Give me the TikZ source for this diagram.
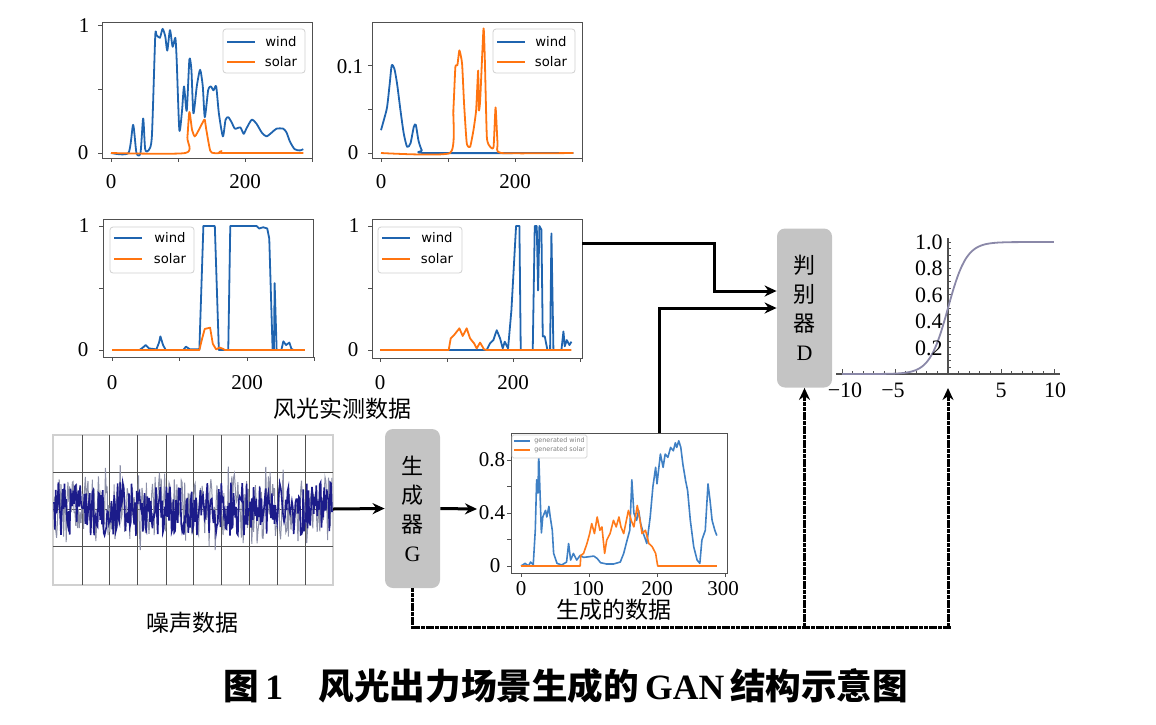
\documentclass[tikz,border=0pt]{standalone}
\usepackage{fontspec}
\setmainfont{Liberation Serif}
\newfontfamily\cjk{Noto Sans CJK SC}
\newfontfamily\mplfont{DejaVu Sans}
\usetikzlibrary{arrows.meta,calc}

\definecolor{windblue}{HTML}{1F64AF}
\definecolor{solarorange}{HTML}{FF7410}
\definecolor{genblue}{HTML}{3F80C4}
\definecolor{genorange}{HTML}{FF7A1A}
\definecolor{boxgray}{HTML}{C4C4C4}
\definecolor{axgray}{HTML}{505050}
\definecolor{leggray}{HTML}{D0D0D0}
\definecolor{noisenavy}{HTML}{1C1C8A}
\definecolor{noisegray}{HTML}{8C90A8}
\definecolor{sigcurve}{HTML}{8A88A8}

\begin{document}
\begin{tikzpicture}[
    x=0.5pt, y=-0.5pt,
    every node/.style={inner sep=0pt},
    block/.style={rectangle, rounded corners=4pt, fill=boxgray, minimum width=27.5pt, minimum height=79.5pt, align=center, font=\fontsize{11}{14.5}\selectfont},
    conn/.style={line width=1.5pt, -{Stealth[length=6pt, width=5.5pt]}},
    feedback/.style={line width=1.5pt, dash pattern=on 2pt off 0.35pt},
    frame/.style={draw=axgray, line width=0.5pt},
    wind/.style={windblue, line width=0.9pt, line join=round},
    solar/.style={solarorange, line width=0.9pt, line join=round},
    ticklab/.style={font=\fontsize{10.5}{12}\selectfont},
    legbox/.style={draw=leggray, fill=white, rounded corners=1.5pt, line width=0.4pt},
    legtext/.style={font=\mplfont\fontsize{6.6}{8}\selectfont},
    cjklab/.style={font=\cjk\fontsize{11.5}{13}\selectfont}
  ]
  \useasboundingbox (0,0) rectangle (1156,724);

  % measured wind / solar, top left
  \draw[frame] (102,22) rectangle (312,158);
  \foreach \t in {111,178,245,312} \draw[frame] (\t,158) -- (\t,162);
  \foreach \t in {153,89,25} \draw[frame] (102,\t) -- (98,\t);
  \node (p1y1) [ticklab] at (84,26) {1};
  \node (p1y0) [ticklab] at (83,153) {0};
  \node (p1x0) [ticklab] at (111,182) {0};
  \node (p1x2) [ticklab] at (245,182) {200};
  \begin{scope}[shift={(111,153)}, xscale=0.67, yscale=-128]
    \draw[wind] plot[smooth, tension=0.4] coordinates {(0,0) (26,0) (33,0.22) (38,0) (44,0) (48,0.27) (51,0.03) (56,0.02) (61,0.13) (66,0.91) (68,0.92) (73,0.90) (77,0.97) (81,0.91) (84,0.80) (88,0.96) (92,0.83) (96,0.90) (98,0.73) (102,0.18) (106,0.33) (109,0.52) (113,0.33) (117,0.73) (120,0.65) (123,0.31) (128,0.52) (133,0.65) (137,0.52) (140,0.28) (145,0.49) (149,0.52) (153,0.49) (157,0.52) (161,0.31) (167,0.13) (171,0.26) (175,0.28) (180,0.24) (185,0.19) (193,0.20) (198,0.15) (202,0.19) (210,0.26) (217,0.23) (225,0.16) (232,0.13) (240,0.16) (247,0.19) (257,0.19) (262,0.16) (267,0.09) (274,0.03) (282,0.02) (287,0.03)};
    \draw[solar] plot[smooth, tension=0.4] coordinates {(0,0) (111,0) (114,0.12) (117,0.32) (121,0.18) (125,0.13) (129,0.16) (133,0.2) (138,0.25) (140,0.26) (142,0.19) (148,0.02) (153,0) (162,0) (165,0.015) (168,0) (287,0)};
  \end{scope}
  \draw[legbox] (223,29) rectangle (305,73);
  \draw[wind, line width=1.1pt] (227,42) -- (255,42);
  \draw[solar, line width=1.1pt] (227,62) -- (255,62);
  \node (l1w) [legtext] at (281,42) {wind};
  \node (l1s) [legtext] at (281,62) {solar};

  % measured wind / solar, top right
  \draw[frame] (372,22) rectangle (582,158);
  \foreach \t in {381,448,515,582} \draw[frame] (\t,158) -- (\t,162);
  \foreach \t in {153,109,65} \draw[frame] (372,\t) -- (368,\t);
  \node (p2y1) [ticklab] at (350,67) {0.1};
  \node (p2y0) [ticklab] at (353,153) {0};
  \node (p2x0) [ticklab] at (381,182) {0};
  \node (p2x2) [ticklab] at (515,182) {200};
  \begin{scope}[shift={(381,153)}, xscale=0.67, yscale=-877]
    \draw[wind] plot[smooth, tension=0.4] coordinates {(0,0.026) (4,0.037) (9,0.052) (13,0.079) (16,0.1) (20,0.096) (24,0.079) (29,0.049) (34,0.022) (39,0.007) (44,0.011) (49,0.03) (52,0.032) (56,0.014) (61,0.003) (68,0) (287,0)};
    \draw[solar] plot[smooth, tension=0.3] coordinates {(0,0) (103,0) (108,0.049) (111,0.098) (114,0.1) (117,0.117) (121,0.102) (124,0.056) (128,0.011) (133,0.007) (138,0.026) (142,0.049) (145,0.094) (146,0.049) (148,0.06) (153,0.142) (155,0.106) (158,0.018) (163,0.007) (168,0.007) (171,0.052) (174,0.011) (179,0) (287,0)};
  \end{scope}
  \draw[legbox] (493,29) rectangle (575,73);
  \draw[wind, line width=1.1pt] (497,42) -- (525,42);
  \draw[solar, line width=1.1pt] (497,62) -- (525,62);
  \node (l2w) [legtext] at (551,42) {wind};
  \node (l2s) [legtext] at (551,62) {solar};

  % measured wind / solar, middle left
  \draw[frame] (103,219) rectangle (313,357);
  \foreach \t in {112,179,247,314} \draw[frame] (\t,357) -- (\t,361);
  \foreach \t in {350,288,226} \draw[frame] (103,\t) -- (99,\t);
  \node (p3y1) [ticklab] at (84,226) {1};
  \node (p3y0) [ticklab] at (83,350) {0};
  \node (p3x0) [ticklab] at (112,383) {0};
  \node (p3x2) [ticklab] at (247,383) {200};
  \begin{scope}[shift={(112,350)}, xscale=0.672, yscale=-124]
    \draw[wind] plot coordinates {(0,0) (41,0) (46,0.02) (50,0.04) (55,0.013) (66,0.005) (70,0.06) (72,0.11) (76,0.04) (80,0) (106,0) (110,0.027) (116,0.005) (130,0.005) (136,1) (153,1) (159,0) (173,0) (176,1) (215,1) (219,0.98) (225,0.99) (231,0.98) (234,0.9) (239,0) (241,0) (242,0.54) (245,0) (252,0) (255,0.07) (259,0.04) (264,0.06) (267,0.01) (270,0) (287,0)};
    \draw[solar] plot coordinates {(0,0) (130,0) (134,0.09) (138,0.17) (146,0.18) (150,0.05) (155,0.005) (160,0.02) (165,0.01) (168,0) (287,0)};
  \end{scope}
  \draw[legbox] (110,227) rectangle (194,273);
  \draw[wind, line width=1.1pt] (114,238) -- (142,238);
  \draw[solar, line width=1.1pt] (114,259) -- (142,259);
  \node (l3w) [legtext] at (170,238) {wind};
  \node (l3s) [legtext] at (170,259) {solar};

  % measured wind / solar, middle right
  \draw[frame] (372,219) rectangle (582,358);
  \foreach \t in {380,447,513,580} \draw[frame] (\t,358) -- (\t,362);
  \foreach \t in {350,288,226} \draw[frame] (372,\t) -- (368,\t);
  \node (p4y1) [ticklab] at (354,226) {1};
  \node (p4y0) [ticklab] at (353,350) {0};
  \node (p4x0) [ticklab] at (380,383) {0};
  \node (p4x2) [ticklab] at (513,383) {200};
  \begin{scope}[shift={(380,350)}, xscale=0.667, yscale=-124]
    \draw[wind] plot coordinates {(0,0) (160,0) (165,0.054) (170,0.08) (175,0.16) (180,0.094) (184,0.013) (187,0.067) (192,0.013) (197,0.32) (204,1) (209,1) (211,0) (229,0) (232,1) (235,1) (237,0.48) (239,1) (242,0.97) (244,0.11) (247,0.11) (251,0) (255,0) (257,0.94) (260,0) (272,0) (275,0.15) (277,0.03) (280,0.08) (284,0.04) (287,0.067)};
    \draw[solar] plot coordinates {(0,0) (103,0) (106,0.094) (111,0.12) (119,0.175) (124,0.113) (130,0.175) (135,0.094) (141,0.054) (145,0.013) (150,0.06) (156,0.005) (160,0) (287,0)};
  \end{scope}
  \draw[legbox] (378,227) rectangle (462,273);
  \draw[wind, line width=1.1pt] (382,238) -- (410,238);
  \draw[solar, line width=1.1pt] (382,259) -- (410,259);
  \node (l4w) [legtext] at (437,238) {wind};
  \node (l4s) [legtext] at (437,259) {solar};
  \coordinate (realout) at (582,243);

  \node (real) [cjklab] at (342,409) {风光实测数据};

  % noise
  \draw[draw=leggray, line width=0.6pt] (53,435) rectangle (333,585);
  \foreach \g in {82,109,137,166,193,221,249,277,305} \draw[axgray, line width=0.5pt] (\g,435) -- (\g,585);
  \foreach \g in {472,509,546} \draw[axgray, line width=0.5pt] (53,\g) -- (333,\g);
  \pgfmathsetseed{11}
  \draw[noisegray, line width=0.5pt] plot[domain=54:332, samples=320] (\x, {509+28*rand+30*rand*abs(rand)});
  \draw[noisenavy, line width=0.8pt] plot[domain=54:332, samples=320] (\x, {509+27*rand});
  \coordinate (noise) at (333,509);
  \node (noiselab) [cjklab] at (192,623) {噪声数据};

  % generator and discriminator
  \node (G) [block] at (412.5,508.5) {{\cjk 生}\\{\cjk 成}\\{\cjk 器}\\G};
  \node (D) [block] at (804.5,308) {{\cjk 判}\\{\cjk 别}\\{\cjk 器}\\D};

  % generated data
  \draw[frame] (511,433) rectangle (727,573);
  \foreach \t in {521,589,657,725} \draw[frame] (\t,573) -- (\t,577);
  \foreach \t in {566,539.5,513,486.5,460} \draw[frame] (511,\t) -- (507,\t);
  \node (gy8) [ticklab] at (492,460) {0.8};
  \node (gy4) [ticklab] at (492,513) {0.4};
  \node (gy0) [ticklab] at (495,566) {0};
  \node (gx0) [ticklab] at (521,589) {0};
  \node (gx1) [ticklab] at (588,589) {100};
  \node (gx2) [ticklab] at (657,589) {200};
  \node (gx3) [ticklab] at (723,589) {300};
  \begin{scope}[shift={(521,566)}, xscale=0.68, yscale=-132.5]
    \draw[genblue, line width=0.8pt, line join=round] plot coordinates {(0,0) (6,0.02) (11,0) (14,0.03) (18,0.01) (21,0.27) (23,0.65) (25,0.55) (26,0.85) (28,0.55) (30,0.25) (32,0.37) (36,0.42) (38,0.37) (41,0.45) (43,0.37) (46,0.27) (48,0.095) (53,0.02) (60,0.008) (67,0.03) (70,0.17) (73,0.045) (77,0.095) (82,0.045) (87,0.08) (92,0.065) (100,0.07) (107,0.075) (112,0.057) (117,0.025) (126,0.015) (136,0.015) (146,0.03) (151,0.095) (156,0.195) (160,0.27) (163,0.65) (166,0.4) (170,0.345) (173,0.42) (176,0.32) (180,0.245) (185,0.17) (190,0.37) (194,0.6) (198,0.745) (200,0.62) (205,0.845) (209,0.745) (212,0.845) (216,0.82) (220,0.895) (224,0.87) (227,0.93) (229,0.895) (232,0.945) (235,0.895) (238,0.77) (242,0.645) (245,0.57) (249,0.345) (254,0.145) (259,0.045) (263,0.02) (266,0.195) (271,0.27) (275,0.62) (278,0.495) (281,0.345) (285,0.27) (288,0.23)};
    \draw[genorange, line width=0.8pt, line join=round] plot coordinates {(0,0) (87,0) (88,0.08) (92,0.095) (97,0.17) (101,0.245) (104,0.32) (108,0.245) (112,0.37) (116,0.27) (119,0.295) (123,0.095) (126,0.195) (131,0.245) (136,0.345) (140,0.295) (144,0.37) (147,0.295) (151,0.245) (155,0.345) (158,0.42) (162,0.345) (166,0.295) (171,0.457) (175,0.345) (178,0.245) (183,0.27) (188,0.17) (193,0.145) (198,0.095) (201,0) (288,0)};
  \end{scope}
  \draw[legbox, rounded corners=0.8pt] (512,435) rectangle (587,458);
  \draw[genblue, line width=0.6pt] (514,441) -- (530,441);
  \draw[genorange, line width=0.6pt] (514,450) -- (530,450);
  \node (lgw) [font=\mplfont\fontsize{3.2}{4}\selectfont, text=gray, anchor=west] at (534,441) {generated wind};
  \node (lgs) [font=\mplfont\fontsize{3.2}{4}\selectfont, text=gray, anchor=west] at (534,450) {generated solar};
  \node (genlab) [cjklab] at (614,610) {生成的数据};
  \coordinate (genin) at (477,509);
  \coordinate (genout) at (659,433);

  % sigmoid output
  \draw[axgray, line width=0.6pt] (836,374) -- (1060,374);
  \draw[axgray, line width=0.6pt] (948,374) -- (948,238);
  \foreach \i in {-10,...,10} \draw[axgray, line width=0.4pt] (948+10.6*\i,374) -- ++(0,-3);
  \foreach \i in {-10,-5,5,10} \draw[axgray, line width=0.5pt] (948+10.6*\i,374) -- ++(0,-5);
  \foreach \j in {1,...,20} \draw[axgray, line width=0.4pt] (948,374-6.6*\j) -- ++(3,0);
  \begin{scope}[shift={(948,374)}, xscale=10.6, yscale=-132]
    \draw[sigcurve, line width=0.9pt] (-10,0) -- plot[domain=-7.5:10, samples=110] (\x, {1/(1+exp(-1.15*\x))});
  \end{scope}
  \node (s10) [ticklab, font=\fontsize{11}{12}\selectfont, anchor=east] at (943,242) {1.0};
  \node (s08) [ticklab, font=\fontsize{11}{12}\selectfont, anchor=east] at (943,268) {0.8};
  \node (s06) [ticklab, font=\fontsize{11}{12}\selectfont, anchor=east] at (943,295) {0.6};
  \node (s04) [ticklab, font=\fontsize{11}{12}\selectfont, anchor=east] at (943,321) {0.4};
  \node (s02) [ticklab, font=\fontsize{11}{12}\selectfont, anchor=east] at (943,348) {0.2};
  \node (sxm10) [ticklab, font=\fontsize{11}{12}\selectfont] at (845,390) {−10};
  \node (sxm5) [ticklab, font=\fontsize{11}{12}\selectfont] at (893,390) {−5};
  \node (sx5) [ticklab, font=\fontsize{11}{12}\selectfont] at (1001,390) {5};
  \node (sx10) [ticklab, font=\fontsize{11}{12}\selectfont] at (1055,390) {10};
  \coordinate (sigin) at (948,388);

  % connectors
  \draw[conn] (noise) -- (G.west);
  \draw[conn] (G.east) -- (genin);
  \draw[conn] (realout) -- ++(132,0) |- ($(D.west)+(0,-17)$);
  \draw[conn] (genout) |- (D.west);
  \coordinate (bus) at (951,627);
  \draw[feedback] (G.south) |- (bus);
  \draw[feedback, -{Stealth[length=6pt, width=5.5pt]}] (D.south |- bus) -- (D.south);
  \draw[feedback, -{Stealth[length=6pt, width=5.5pt]}] (sigin |- bus) -- (sigin);

  \node (caption) [font=\fontsize{17.8}{20}\selectfont\bfseries] at (566,686) {{\cjk 图}\,1\quad{\cjk 风光出力场景生成的}\,GAN\,{\cjk 结构示意图}};
\end{tikzpicture}
\end{document}
